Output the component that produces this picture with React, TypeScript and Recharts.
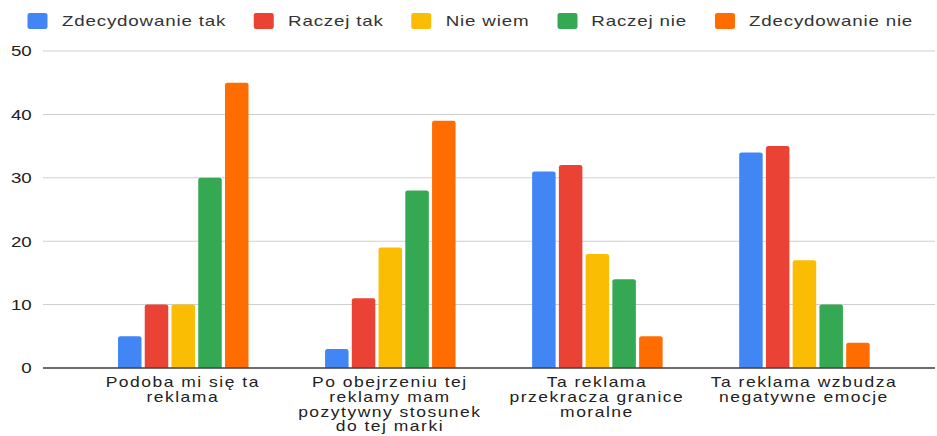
import { Bar, BarChart, CartesianGrid, XAxis, YAxis } from 'recharts'

const categories = [
  'Podoba mi się ta\nreklama',
  'Po obejrzeniu tej\nreklamy mam\npozytywny stosunek\ndo tej marki',
  'Ta reklama\nprzekracza granice\nmoralne',
  'Ta reklama wzbudza\nnegatywne emocje',
]
const zdecydowanieTak = [5, 3, 31, 34]
const raczejTak = [10, 11, 32, 35]
const nieWiem = [10, 19, 18, 17]
const raczejNie = [30, 28, 14, 10]
const zdecydowanieNie = [45, 39, 5, 4]
const yTicks = [0, 10, 20, 30, 40, 50]

const series = [
  { key: 'zt', name: 'Zdecydowanie tak', values: zdecydowanieTak, color: '#4285F4' },
  { key: 'rt', name: 'Raczej tak', values: raczejTak, color: '#EA4335' },
  { key: 'nw', name: 'Nie wiem', values: nieWiem, color: '#FBBC04' },
  { key: 'rn', name: 'Raczej nie', values: raczejNie, color: '#34A853' },
  { key: 'zn', name: 'Zdecydowanie nie', values: zdecydowanieNie, color: '#FF6D01' },
]

const data = categories.map((c, i) => {
  const row: any = { category: c }
  series.forEach((s) => (row[s.key] = s.values[i]))
  return row
})

const FONT = '"Liberation Sans", Arial, sans-serif'
// the reference is stretched horizontally, so draw narrower and scale x
const STRETCH = 1.25
const W = 937 / STRETCH
const H = 436

function CategoryTick({ x, y, payload }: any) {
  const lines = String(payload.value).split('\n')
  return (
    <g transform={`translate(${x},${y})`}>
      <text textAnchor="middle" fontSize={14} fill="#222" fontFamily={FONT} letterSpacing={1.2}>
        {lines.map((l, i) => (
          <tspan key={i} x={0} y={19 + i * 14.8}>
            {l}
          </tspan>
        ))}
      </text>
    </g>
  )
}

function Legend() {
  return (
    <div
      style={{
        position: 'absolute',
        top: 13,
        left: 22.4,
        display: 'flex',
        alignItems: 'center',
        fontFamily: FONT,
        fontSize: 15,
        color: '#333',
        whiteSpace: 'nowrap',
        lineHeight: '16px',
      }}
    >
      {series.map((s) => (
        <div key={s.key} style={{ display: 'flex', alignItems: 'center', marginRight: 22.4 }}>
          <span
            style={{
              display: 'inline-block',
              width: 16,
              height: 16,
              borderRadius: 2,
              background: s.color,
              marginRight: 11.2,
            }}
          />
          <span style={{ letterSpacing: 0.65 }}>{s.name}</span>
        </div>
      ))}
    </div>
  )
}

export default function App() {
  return (
    <div
      style={{
        position: 'absolute',
        left: 0,
        top: 0,
        width: W,
        height: H,
        background: '#fff',
        transform: `scaleX(${STRETCH})`,
        transformOrigin: '0 0',
      }}
    >
      <Legend />
      <BarChart
        width={W}
        height={H}
        data={data}
        margin={{ top: 51, right: 1.6, bottom: 0, left: 0 }}
        barSize={18.8}
        barGap={2.6}
      >
        <CartesianGrid vertical={false} stroke="#d0d0d0" />
        <XAxis
          dataKey="category"
          height={68}
          interval={0}
          tickLine={false}
          tickSize={0}
          tickMargin={0}
          axisLine={{ stroke: '#444', strokeWidth: 1.3 }}
          padding={{ left: 29, right: 22 }}
          tick={<CategoryTick />}
        />
        <YAxis
          width={34.4}
          domain={[0, 50]}
          ticks={yTicks}
          axisLine={false}
          tickLine={false}
          tickSize={0}
          tickMargin={9}
          tick={{ fontSize: 15, fill: '#222', fontFamily: FONT }}
        />
        {series.map((s) => (
          <Bar
            key={s.key}
            dataKey={s.key}
            name={s.name}
            fill={s.color}
            radius={[2, 2, 0, 0]}
            isAnimationActive={false}
          />
        ))}
      </BarChart>
    </div>
  )
}
